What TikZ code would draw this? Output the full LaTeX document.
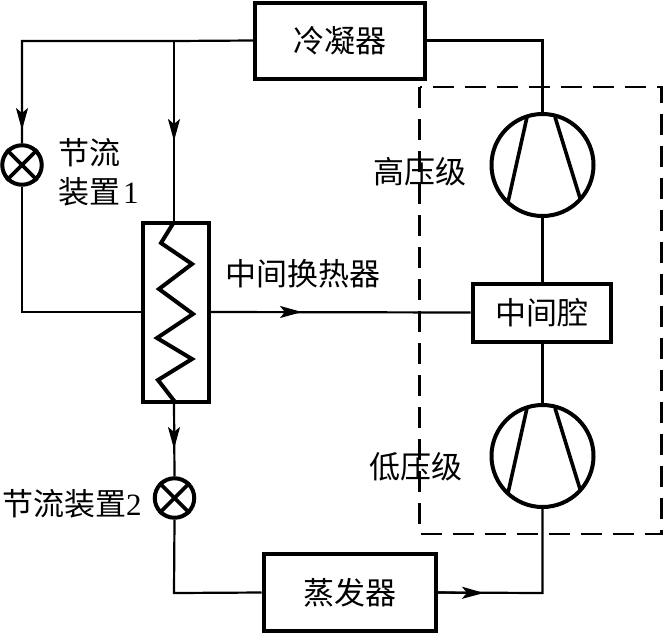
\documentclass[tikz,border=0pt]{standalone}
\usepackage{fontspec}
\setmainfont{Liberation Serif}
\newfontfamily\cjk{Noto Sans CJK SC}
\usetikzlibrary{arrows.meta}
\tikzset{
  x=1pt,y=-1pt,
  pipe/.style={line width=2.2pt,line join=miter},
  flowtip/.style={line width=2.2pt,-{Stealth[length=22pt,width=12pt,inset=5pt]}},
  unit/.style={draw,line width=4pt,inner sep=0pt,font=\cjk\fontsize{31}{31}\selectfont},
  valve/.style={draw,circle,line width=4pt,minimum size=39.5pt,inner sep=0pt},
  compressor/.style={draw,circle,line width=4pt,minimum size=102pt,inner sep=0pt},
  blade/.style={line width=3.6pt},
  coil/.style={line width=4pt,line join=miter},
  tag/.style={inner sep=0pt,font=\cjk\fontsize{31}{34}\selectfont},
  housing/.style={line width=2.4pt,dash pattern=on 21pt off 11pt},
}
\begin{document}
\begin{tikzpicture}
\useasboundingbox (0,0) rectangle (663,633);
\fill[white] (0,0) rectangle (663,633);
% dashed housing
\draw[housing] (419.5,87) rectangle (661.5,534);
% units
\node[unit,minimum width=170pt,minimum height=76pt] (cond) at (340,40.5) {冷凝器};
\node[unit,minimum width=172pt,minimum height=77pt] (evap) at (349.5,592.5) {蒸发器\hspace{6pt}};
\node[unit,minimum width=138pt,minimum height=58pt] (mid) at (541.5,312.5) {中间腔\hspace{9pt}};
\node[draw,line width=4pt,minimum width=66pt,minimum height=179pt,inner sep=0pt] (hx) at (175.5,312) {};
\node[valve] (v1) at (22,165) {};
\node[valve] (v2) at (174.5,498) {};
\node[compressor] (c1) at (542.5,165) {};
\node[compressor] (c2) at (542.5,456) {};
% valve crosses
\foreach \v in {v1,v2}{
  \draw[blade] (\v.north west) -- (\v.south east);
  \draw[blade] (\v.north east) -- (\v.south west);
}
% compressor blades
\draw[blade] (527,117) -- (508,202);
\draw[blade] (555,117) -- (580,198);
\draw[blade] (527,408) -- (508,493);
\draw[blade] (555,408) -- (580,489);
% coil
\draw[coil] (174,222) -- (161,243) -- (192,264) -- (159,289) -- (193,314) -- (157,338) -- (192,359) -- (158,380) -- (175,402);
% named way-points
\coordinate (corner1) at (22,41);
\coordinate (tee) at (174,41);
\coordinate (hxin) at (174,222);
\coordinate (hxout) at (174,402);
\coordinate (tip1) at (22,130);
\coordinate (tip2) at (174,141);
\coordinate (tip3) at (174,449);
\coordinate (tip4) at (302,312);
\coordinate (tip5) at (484,593);
\coordinate (corner2) at (22,312);
\coordinate (corner3) at (174,593);
\coordinate (corner4) at (542.5,593);
% pipes
\draw[pipe] (cond.west) -- (tee) -- (corner1) -- (v1.north);
\draw[flowtip] (corner1) -- (tip1);
\draw[pipe] (tee) -- (hxin);
\draw[flowtip] (tee) -- (tip2);
\draw[pipe] (v1.south) -- (corner2) -- (hx.west);
\draw[pipe] (hx.east) -- (mid.west);
\draw[flowtip] (hx.east) -- (tip4);
\draw[pipe] (hxout) -- (v2.north);
\draw[flowtip] (hxout) -- (tip3);
\draw[pipe] (v2.south) -- (corner3) -- (evap.west);
\draw[pipe] (evap.east) -- (corner4) -- (c2.south);
\draw[flowtip] (evap.east) -- (tip5);
\draw[pipe] (c2.north) -- (mid.south -| c2.north);
\draw[pipe] (mid.north -| c1.south) -- (c1.south);
\draw[pipe] (cond.east) -| (c1.north);
% labels
\node[tag,anchor=west] (l1) at (58,153) {节流};
\node[tag,anchor=west] (l2) at (58,192) {装置\hspace{3pt}{\rmfamily 1}};
\node[tag,anchor=center] (l3) at (419.5,172) {高压级};
\node[tag,anchor=center] (l4) at (302.5,274) {中间换热器};
\node[tag,anchor=center] (l5) at (416,467) {低压级};
\node[tag,anchor=west] (l6) at (2,504) {节流装置{\rmfamily 2}};
\end{tikzpicture}
\end{document}
